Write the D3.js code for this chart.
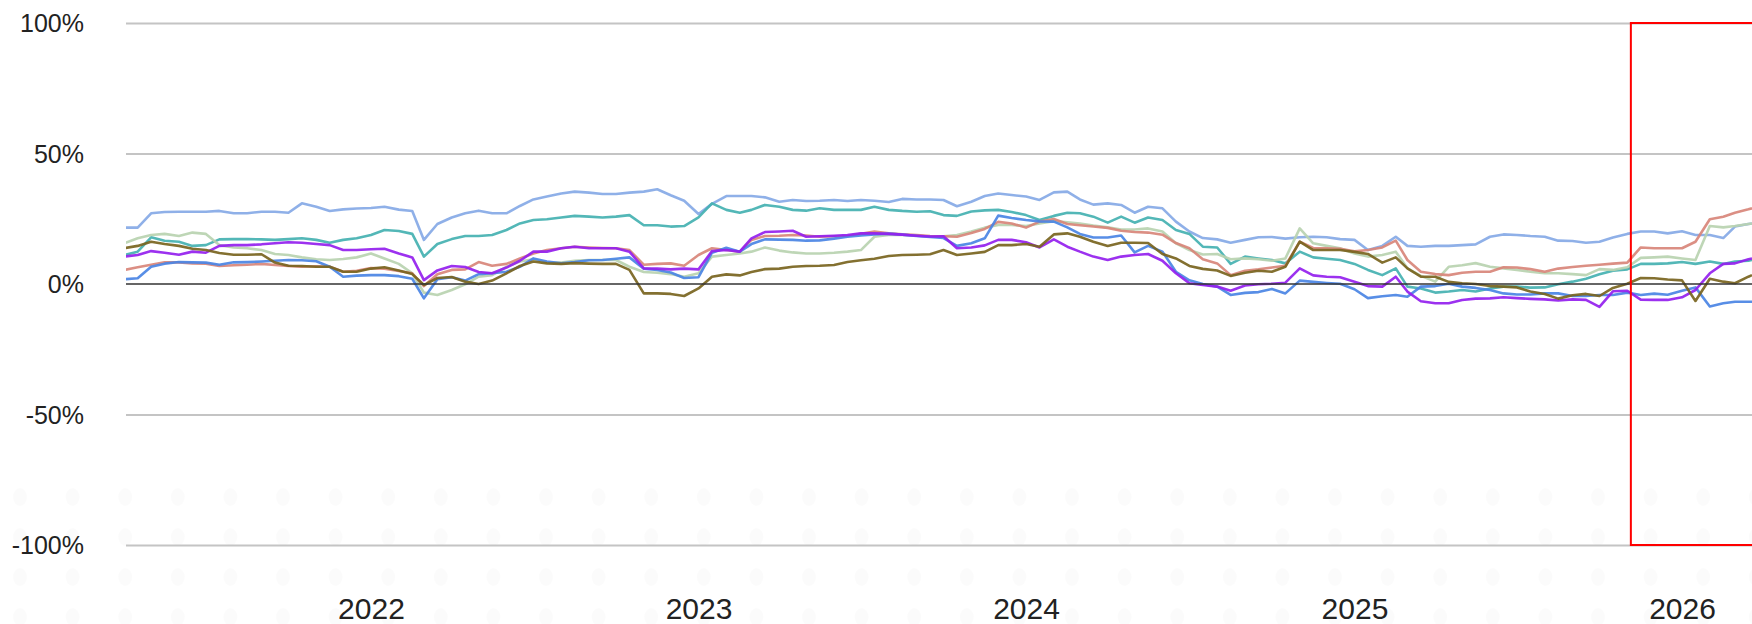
<!DOCTYPE html>
<html><head><meta charset="utf-8">
<script src="https://cdn.jsdelivr.net/npm/d3@7"></script>
<style>
html,body{margin:0;padding:0;background:#fff;}
svg{display:block;}
text{font-family:"Liberation Sans", Arial, sans-serif;}
</style>
</head><body>
<svg id="chart" width="1752" height="624"></svg>
<script>
// ---------- data ----------
const dates = [
"2021-04-01","2021-04-16","2021-05-01","2021-05-16","2021-06-01","2021-06-16","2021-07-01","2021-07-16","2021-08-01","2021-08-16","2021-09-01","2021-09-16","2021-10-01","2021-10-16","2021-11-01","2021-11-16","2021-12-01","2021-12-16",
"2022-01-01","2022-01-16","2022-02-01","2022-02-16","2022-03-01","2022-03-16","2022-04-01","2022-04-16","2022-05-01","2022-05-16","2022-06-01","2022-06-16","2022-07-01","2022-07-16","2022-08-01","2022-08-16","2022-09-01","2022-09-16","2022-10-01","2022-10-16","2022-11-01","2022-11-16","2022-12-01","2022-12-16",
"2023-01-01","2023-01-16","2023-02-01","2023-02-16","2023-03-01","2023-03-16","2023-04-01","2023-04-16","2023-05-01","2023-05-16","2023-06-01","2023-06-16","2023-07-01","2023-07-16","2023-08-01","2023-08-16","2023-09-01","2023-09-16","2023-10-01","2023-10-16","2023-11-01","2023-11-16","2023-12-01","2023-12-16",
"2024-01-01","2024-01-16","2024-02-01","2024-02-16","2024-03-01","2024-03-16","2024-04-01","2024-04-16","2024-05-01","2024-05-16","2024-06-01","2024-06-16","2024-07-01","2024-07-16","2024-08-01","2024-08-16","2024-09-01","2024-09-16","2024-10-01","2024-10-16","2024-11-01","2024-11-16","2024-12-01","2024-12-16",
"2025-01-01","2025-01-16","2025-02-01","2025-02-16","2025-03-01","2025-03-16","2025-04-01","2025-04-16","2025-05-01","2025-05-16","2025-06-01","2025-06-16","2025-07-01","2025-07-16","2025-08-01","2025-08-16","2025-09-01","2025-09-16","2025-10-01","2025-10-16","2025-11-01","2025-11-16","2025-12-01","2025-12-16",
"2026-01-01","2026-01-16","2026-02-01","2026-02-16","2026-03-01","2026-03-16","2026-03-20"
];

const seriesLightBlue = [21.6,21.6,27.1,27.6,27.7,27.7,27.7,28.0,27.1,27.1,27.7,27.7,27.3,30.9,29.6,28.0,28.6,28.9,29.1,29.6,
28.5,
28.0,16.9,23.0,25.5,27.1,28.1,27.1,27.1,29.9,32.4,33.5,34.7,35.4,35.0,34.5,34.5,35.0,35.4,36.3,
34.0,
31.9,26.8,30.7,33.7,33.7,33.7,33.2,31.5,32.2,31.8,31.9,32.2,31.8,32.2,31.9,31.4,32.6,32.4,
32.4,
32.2,29.8,31.5,33.7,34.7,34.1,33.5,32.2,35.1,35.4,32.4,30.4,30.9,30.3,27.3,29.6,29.0,23.9,20.1,
17.6,
17.1,15.8,16.9,17.9,18.0,17.4,17.9,18.1,17.9,17.2,16.9,13.0,14.6,18.1,14.6,14.3,14.6,14.6,14.9,
15.2,
18.1,19.0,18.8,18.4,18.1,16.6,16.5,15.8,16.2,17.8,19.2,20.1,20.1,19.4,20.2,18.8,18.8,17.6,22.0,23.0,23.2];

const seriesTeal = [11.1,12.4,17.9,16.6,16.2,14.6,14.9,17.1,17.2,17.2,17.1,16.9,17.2,17.5,16.9,15.8,16.9,17.5,18.8,20.7,
20.3,
19.2,10.5,15.3,17.2,18.4,18.4,18.8,20.7,23.2,24.5,24.8,25.5,26.1,25.8,25.5,25.8,26.4,22.5,22.5,
22.0,
22.2,25.5,30.9,28.4,27.3,28.4,30.3,29.6,28.4,28.1,29.0,28.4,28.4,28.4,29.6,28.4,28.0,27.7,
27.9,
26.4,26.1,27.8,28.2,28.4,27.6,26.4,24.5,26.1,27.3,27.1,25.8,23.5,25.8,23.5,25.5,24.5,20.7,19.2,
14.3,
14.0,7.7,10.5,9.8,9.2,7.9,12.4,10.2,9.7,9.2,7.7,5.4,3.4,6.0,-1.0,-1.7,-3.3,-2.9,-2.3,
-2.9,
-1.7,-1.0,-1.0,-1.4,-1.3,-0.1,0.9,2.0,3.7,5.1,5.6,7.7,7.7,7.9,8.4,7.7,8.6,7.7,8.6,8.9,9.2];

const seriesSage = [15.6,17.5,18.8,19.2,18.4,19.7,19.2,14.9,14.0,13.7,13.0,11.5,11.1,10.2,9.5,9.2,9.6,10.2,11.7,9.8,
7.7,
4.1,-3.3,-4.2,-2.3,-0.1,2.8,3.4,6.6,8.6,9.5,8.2,8.2,8.9,9.2,9.2,9.2,6.6,4.6,4.3,
3.8,
2.8,4.1,10.5,11.1,11.7,12.4,14.0,12.8,12.1,11.7,11.7,12.0,12.4,13.0,18.1,18.8,18.8,18.6,
18.1,
18.3,18.8,20.1,21.6,22.6,22.6,22.2,23.2,24.1,23.6,23.2,22.4,21.7,20.9,20.9,21.3,20.1,15.6,13.0,
11.3,
11.5,9.5,9.8,9.5,8.9,9.8,21.3,15.6,14.6,13.7,11.7,10.5,11.1,12.4,6.0,3.1,0.9,6.6,7.2,
8.0,
6.6,6.0,5.4,4.7,4.1,4.1,3.8,3.4,5.7,5.4,6.4,10.0,10.2,10.5,9.8,9.2,22.2,21.7,22.2,23.0,23.2];

const seriesSalmon = [5.4,6.4,7.4,8.3,8.3,7.9,7.8,6.9,7.2,7.4,7.7,7.3,6.9,6.6,6.8,6.6,4.7,5.1,6.1,5.9,
5.0,
4.1,-0.8,3.7,5.4,5.6,8.4,7.0,7.7,9.8,11.7,13.0,13.7,14.3,14.0,13.8,13.7,13.0,7.4,7.7,
7.9,
7.0,11.1,13.7,13.0,12.4,16.9,18.4,18.5,18.8,18.6,18.1,18.3,18.4,19.2,20.1,19.4,19.0,18.8,
18.4,
18.3,18.1,19.5,21.1,23.8,23.2,21.6,23.9,24.9,23.0,22.5,22.0,21.5,20.4,19.9,19.7,18.9,15.7,13.7,
9.5,
7.9,3.4,5.1,5.6,6.3,7.0,16.2,13.8,13.7,13.5,12.5,13.0,14.0,16.6,9.2,4.7,3.8,3.4,4.3,
4.7,
4.7,6.4,6.3,5.7,4.7,5.9,6.5,7.0,7.4,7.8,8.2,14.0,13.7,13.7,13.7,16.2,24.8,25.8,27.3,28.6,29.0];

const seriesPurple = [10.5,11.1,12.6,12.0,11.2,12.4,12.0,14.6,14.9,14.9,15.2,15.6,16.0,15.8,15.3,14.9,13.0,13.0,13.3,13.5,
11.7,
10.2,1.5,5.2,6.9,6.5,4.6,4.1,6.3,8.9,12.4,12.4,13.7,14.3,13.7,13.7,13.7,12.4,6.0,5.9,
5.6,
5.9,5.6,12.6,13.0,12.4,17.5,19.9,20.1,20.4,18.1,18.3,18.5,18.8,19.4,19.4,19.2,18.9,18.5,
18.2,
18.3,13.7,14.0,14.8,16.9,16.9,16.0,14.0,17.1,14.3,12.4,10.5,9.2,10.5,11.1,11.5,8.9,4.1,0.3,
-0.4,
-1.0,-2.6,-0.6,-0.1,0.1,0.5,6.0,3.3,2.8,2.6,0.9,-0.8,-1.0,2.8,-2.9,-6.6,-7.4,-7.4,-6.1,
-5.6,
-5.5,-5.1,-5.4,-5.7,-5.9,-6.3,-5.9,-6.1,-8.8,-2.8,-2.6,-6.0,-6.1,-6.1,-5.1,-2.3,4.1,7.7,7.9,9.5,9.8];

const seriesBlue = [1.8,2.2,6.6,7.8,8.4,8.3,8.2,7.4,8.3,8.4,8.6,8.9,9.2,9.1,8.7,6.6,2.8,3.2,3.4,3.4,
3.0,
2.0,-5.5,1.8,2.6,1.3,3.8,4.1,4.7,6.6,9.8,8.6,7.9,8.4,9.1,9.2,9.7,10.2,5.9,5.4,
4.4,
2.3,2.6,12.0,13.9,12.4,15.3,17.1,17.0,16.9,16.6,16.7,17.4,18.1,18.6,19.0,19.3,18.9,18.4,
18.0,
17.6,14.6,15.6,17.5,26.2,25.3,24.5,24.0,23.9,21.7,19.2,17.8,17.8,18.6,12.1,14.6,12.4,4.7,1.4,
0.0,
-1.0,-4.2,-3.4,-3.1,-1.9,-3.6,1.3,0.8,0.4,0.1,-2.0,-5.4,-4.7,-4.2,-4.9,-1.0,-0.8,0.1,-1.0,
-1.5,
-2.3,-3.6,-4.0,-4.0,-3.6,-3.6,-4.6,-4.6,-4.2,-4.2,-3.3,-4.2,-3.7,-4.1,-2.6,-1.3,-8.6,-7.4,-6.8,-6.8,-6.8];

const seriesOlive = [13.7,14.6,16.2,15.3,14.6,13.5,13.0,11.9,11.2,11.2,11.4,8.2,7.0,6.9,6.6,6.6,4.7,4.7,5.9,6.4,
5.2,
3.8,-0.4,2.3,2.7,0.9,0.0,1.3,4.1,6.9,8.6,7.9,7.7,8.0,7.8,7.7,7.7,5.4,-3.6,-3.6,
-3.8,
-4.6,-1.7,2.8,3.7,3.3,4.6,5.7,5.9,6.6,6.9,7.0,7.3,8.4,9.1,9.7,10.7,11.1,11.2,
11.4,
13.0,11.1,11.7,12.3,14.9,14.9,15.3,14.3,19.0,19.4,18.1,16.2,14.6,15.8,15.8,15.7,11.5,9.8,6.9,
5.8,
5.2,3.1,4.3,5.1,4.7,6.6,16.2,13.0,13.0,13.0,12.3,11.5,8.2,10.2,6.0,2.8,2.8,0.8,0.3,
0.0,
-0.8,-1.0,-1.3,-2.9,-3.8,-5.6,-4.3,-3.8,-4.6,-1.5,0.1,2.3,2.2,1.7,1.4,-6.5,2.0,0.9,0.3,2.8,3.4];

const yTicks = [-100, -50, 0, 50, 100];
const yearTicks = ["2022-01-01","2023-01-01","2024-01-01","2025-01-01","2026-01-01"];
const highlightStart = "2025-11-05";
const xStart = "2021-04-03", xEnd = "2026-03-20";

// ---------- styles / layout ----------
const seriesList = [
  {values: seriesLightBlue, color: "#86a9e6"},
  {values: seriesTeal,      color: "#44b1b1"},
  {values: seriesSage,      color: "#b9d3b0"},
  {values: seriesSalmon,    color: "#d8857a"},
  {values: seriesBlue,      color: "#4a84e4"},
  {values: seriesPurple,    color: "#9420ee"},
  {values: seriesOlive,     color: "#78641e"}
];

const W = 1752, H = 624;
const mLeft = 126, mRight = 1752, mTop = 23, mBottom = 545;
const parse = d3.utcParse("%Y-%m-%d");
const dateObjs = dates.map(parse);

const svg = d3.select("#chart");

// faint watermark dots (decoration)
const wm = svg.append("g").attr("fill", "#000").attr("fill-opacity", 0.014);
[497, 537, 577, 617].forEach(cy => {
  d3.range(20, W + 20, 52.6).forEach(cx => {
    wm.append("ellipse").attr("cx", cx).attr("cy", cy).attr("rx", 7).attr("ry", 9);
  });
});

const x = d3.scaleUtc().domain([parse(xStart), parse(xEnd)]).range([mLeft, mRight]);
const y = d3.scaleLinear().domain([-100, 100]).range([mBottom, mTop]);

// gridlines
const grid = svg.append("g").attr("transform", `translate(${mLeft},0)`)
  .call(d3.axisLeft(y).tickValues(yTicks.filter(d => d !== 0)).tickSize(-(mRight - mLeft)).tickFormat(""));
grid.select(".domain").remove();
grid.selectAll("line").attr("stroke", "#c4c4c4").attr("stroke-width", 2);

// y labels
const yAx = svg.append("g").attr("transform", `translate(${mLeft},0)`)
  .call(d3.axisLeft(y).tickValues(yTicks).tickSize(0).tickPadding(42).tickFormat(d => d + "%"));
yAx.select(".domain").remove();
yAx.selectAll("text").attr("font-size", 25).attr("fill", "#222")
  .attr("font-family", "'Liberation Sans', Arial, sans-serif").attr("dy", "0.34em");

// x labels
const xAx = svg.append("g").attr("transform", `translate(0,598)`)
  .call(d3.axisBottom(x).tickValues(yearTicks.map(parse)).tickSize(0).tickPadding(0).tickFormat(d3.utcFormat("%Y")));
xAx.select(".domain").remove();
xAx.selectAll("text").attr("font-size", 30).attr("fill", "#222")
  .attr("font-family", "'Liberation Sans', Arial, sans-serif");

// clip
svg.append("clipPath").attr("id", "plotclip").append("rect")
  .attr("x", mLeft).attr("y", 0).attr("width", mRight - mLeft).attr("height", H);

const plot = svg.append("g").attr("clip-path", "url(#plotclip)");
const line = d3.line().x((d, i) => x(dateObjs[i])).y(d => y(d));

seriesList.forEach(s => {
  plot.append("path").datum(s.values)
    .attr("fill", "none").attr("stroke", s.color).attr("stroke-width", 2.6)
    .attr("stroke-linejoin", "round").attr("stroke-opacity", 0.92)
    .attr("d", line);
});

// zero line
svg.append("line").attr("x1", mLeft).attr("x2", mRight).attr("y1", y(0)).attr("y2", y(0))
  .attr("stroke", "#333").attr("stroke-width", 1.6);

// highlight rectangle
svg.append("rect")
  .attr("x", x(parse(highlightStart))).attr("y", y(100))
  .attr("width", mRight - x(parse(highlightStart)) + 10).attr("height", y(-100) - y(100))
  .attr("fill", "none").attr("stroke", "#ff0000").attr("stroke-width", 2);
</script>
</body></html>
